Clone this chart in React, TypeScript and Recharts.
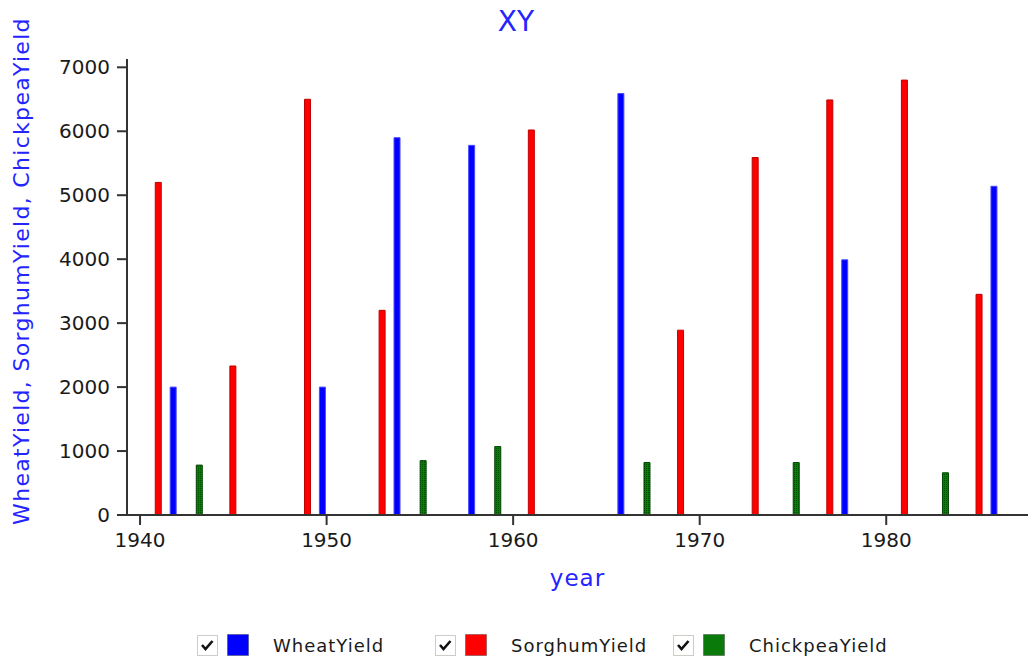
import { BarChart, Bar, XAxis, YAxis } from "recharts";

// each series has its own x positions (year fractions)
const wheatYears = [1941.8, 1949.8, 1953.8, 1957.8, 1965.8, 1977.8, 1985.8];
const wheatYield = [2000, 2000, 5900, 5780, 6590, 3990, 5140];

const sorghumYears = [1941, 1945, 1949, 1953, 1961, 1969, 1973, 1977, 1981, 1985];
const sorghumYield = [5200, 2330, 6500, 3200, 6020, 2890, 5590, 6490, 6800, 3450];

const chickpeaYears = [1943.2, 1955.2, 1959.2, 1967.2, 1975.2, 1983.2];
const chickpeaYield = [780, 850, 1070, 820, 820, 660];

const xTicks = [1940, 1950, 1960, 1970, 1980];
const yTicks = [0, 1000, 2000, 3000, 4000, 5000, 6000, 7000];

const series = [
  { key: "WheatYield", fill: "#0000ff", stroke: "#4a4aff" },
  { key: "SorghumYield", fill: "#ff0000", stroke: "#c00000" },
  { key: "ChickpeaYield", fill: "url(#chickpeaDots)", stroke: "#004400" },
];

const rows = [
  ...wheatYears.map((year, i) => ({ year, WheatYield: wheatYield[i] })),
  ...sorghumYears.map((year, i) => ({ year, SorghumYield: sorghumYield[i] })),
  ...chickpeaYears.map((year, i) => ({ year, ChickpeaYield: chickpeaYield[i] })),
].sort((a, b) => a.year - b.year);

const FONT = "'DejaVu Sans', Tahoma, sans-serif";
const BLUE_TEXT = "#2424ff";

const CheckBox = () => (
  <svg width={21} height={21} style={{ display: "block" }}>
    <rect x={0.5} y={0.5} width={20} height={20} fill="#fff" stroke="#9a9a8a" strokeDasharray="1 1" />
    <path d="M5 10 L8.5 14 L15.5 6" fill="none" stroke="#111" strokeWidth={2.6} />
  </svg>
);

const Swatch = ({ color }: { color: string }) => (
  <svg width={22} height={22} style={{ display: "block" }}>
    <rect x={0.5} y={0.5} width={21} height={21} fill={color} stroke="#333" strokeOpacity={0.4} />
  </svg>
);

export default function App() {
  return (
    <div style={{ position: "absolute", left: 0, top: 0, width: 1028, height: 662, background: "#fff", fontFamily: FONT }}>
      <div style={{ position: "absolute", left: 0, top: 6, width: 1032, textAlign: "center", color: BLUE_TEXT, fontSize: 28, lineHeight: "32px" }}>
        XY
      </div>
      <div
        style={{
          position: "absolute",
          left: 22,
          top: 271,
          transform: "translate(-50%, -50%) rotate(-90deg)",
          whiteSpace: "nowrap",
          color: BLUE_TEXT,
          fontSize: 22,
          letterSpacing: 1.3,
          lineHeight: "26px",
        }}
      >
        WheatYield, SorghumYield, ChickpeaYield
      </div>
      <div style={{ position: "absolute", left: 127, top: 565, width: 901, textAlign: "center", color: BLUE_TEXT, fontSize: 23, letterSpacing: 1, lineHeight: "26px" }}>
        year
      </div>

      <BarChart
        width={1028}
        height={662}
        data={rows}
        margin={{ top: 59, right: 0, bottom: 87, left: 0 }}
        barSize={6}
      >
        <defs>
          <pattern id="chickpeaDots" width={2} height={2} patternUnits="userSpaceOnUse">
            <rect width={2} height={2} fill="#0b7d0b" />
            <rect width={1} height={1} fill="#004d00" />
          </pattern>
        </defs>
        <XAxis
          dataKey="year"
          type="number"
          domain={[1939.3, 1987.6]}
          allowDataOverflow
          ticks={xTicks}
          height={60}
          tickSize={10}
          tickMargin={8}
          axisLine={{ stroke: "#333", strokeWidth: 2 }}
          tickLine={{ stroke: "#333", strokeWidth: 2 }}
          tick={{ fill: "#1a1a1a", fontSize: 20, fontFamily: FONT }}
        />
        <YAxis
          type="number"
          domain={[0, 7130]}
          allowDataOverflow
          ticks={yTicks}
          width={127}
          tickSize={10}
          tickMargin={7}
          axisLine={{ stroke: "#333", strokeWidth: 2 }}
          tickLine={{ stroke: "#333", strokeWidth: 2 }}
          tick={{ fill: "#1a1a1a", fontSize: 20, fontFamily: FONT }}
        />
        {series.map((s) => (
          <Bar
            key={s.key}
            dataKey={s.key}
            stackId="all"
            fill={s.fill}
            stroke={s.stroke}
            strokeWidth={1}
            isAnimationActive={false}
          />
        ))}
      </BarChart>

      <div style={{ position: "absolute", left: 197, top: 634, display: "flex" }}>
        {[
          { name: "WheatYield", color: "#0000ff" },
          { name: "SorghumYield", color: "#ff0000" },
          { name: "ChickpeaYield", color: "#0a7a0a" },
        ].map((item) => (
          <div key={item.name} style={{ width: 238, display: "flex", alignItems: "center" }}>
            <CheckBox />
            <div style={{ width: 9 }} />
            <Swatch color={item.color} />
            <span style={{ marginLeft: 24, fontSize: 18, letterSpacing: 1, color: "#1a1a1a" }}>{item.name}</span>
          </div>
        ))}
      </div>
    </div>
  );
}
